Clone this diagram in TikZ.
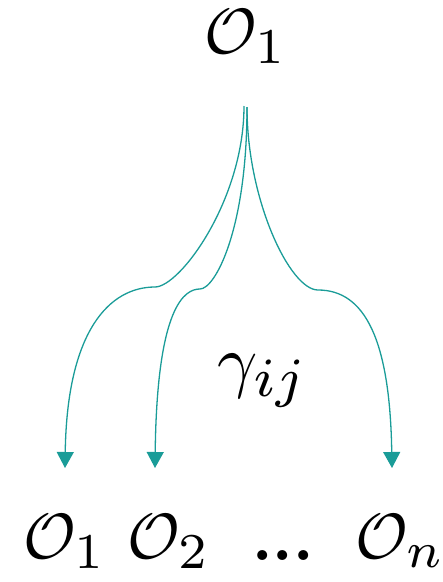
\documentclass[tikz,border=0pt]{standalone}
\usetikzlibrary{arrows.meta}
\definecolor{tealc}{RGB}{26,156,152}
\newcommand\mysb[1]{\scalebox{1.12}{$\scriptstyle #1$}}
\begin{document}
\begin{tikzpicture}[x=1pt,y={(0pt,-1pt)},
  lab/.style={inner sep=0pt,anchor=base,scale=6.4},
  conn/.style={draw=tealc,line width=1.3pt,-{Triangle[width=17pt,length=16pt,fill=tealc]}}]
\useasboundingbox (0,0) rectangle (443,582);
\node[lab] (top) at (246,53) {$\mathcal{O}_{\mysb{1}}$};
\node[lab] (b1) at (65,558) {$\mathcal{O}_{\mysb{1}}$};
\node[lab] (b2) at (169,558) {$\mathcal{O}_{\mysb{2}}$};
\node[lab] (dots) at (283,560) {\textbf{...}};
\node[lab] (bn) at (400,558) {$\mathcal{O}_{\mysb{n}}$};
\node[lab,scale=1.1] (g) at (263,384) {$\gamma_{\mysb{ij}}$};
\coordinate (s1) at (244,106);
\coordinate (s2) at (247,107);
\coordinate (e1) at (65,468);
\coordinate (e2) at (155,468);
\coordinate (e3) at (392,468);
\draw[conn] (s1) .. controls (244,200) and (180,287) .. (155,287)
  .. controls (110,287) and (67,330) .. (e1);
\draw[conn] (s2) .. controls (247,230) and (215,289) .. (200,289)
  .. controls (185,289) and (157,305) .. (e2);
\draw[conn] (s2) .. controls (247,200) and (290,290) .. (318,290)
  .. controls (365,290) and (390,340) .. (e3);
\end{tikzpicture}
\end{document}
